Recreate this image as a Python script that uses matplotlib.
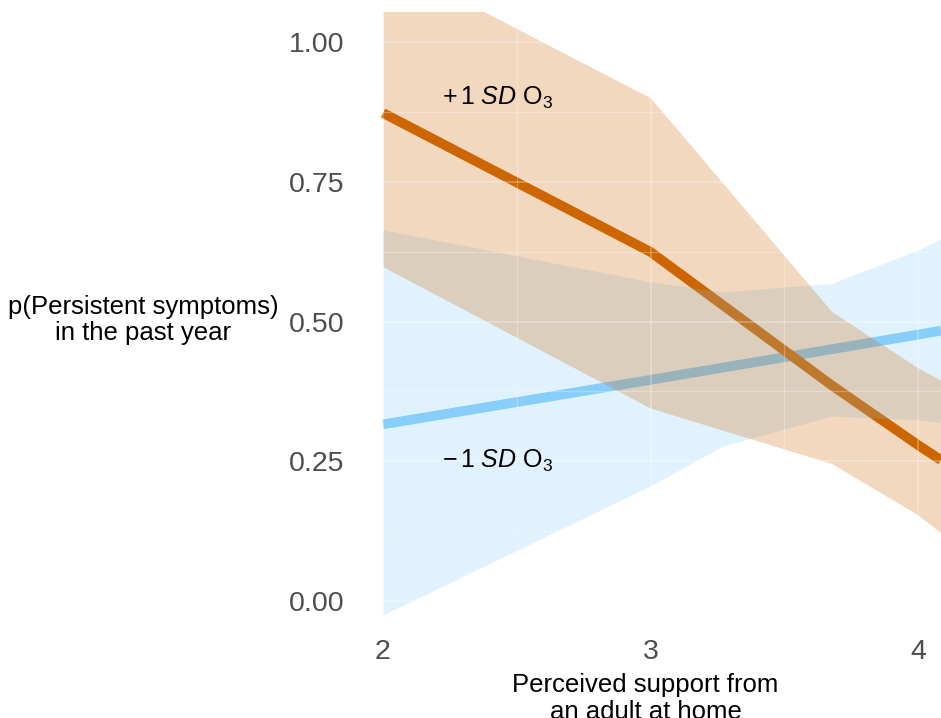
import numpy as np
import matplotlib
matplotlib.use("Agg")
import matplotlib.pyplot as plt
from matplotlib.ticker import MultipleLocator

plt.rcParams['font.family'] = ['Liberation Sans', 'DejaVu Sans']
plt.rcParams['mathtext.fontset'] = 'custom'
plt.rcParams['mathtext.rm'] = 'Liberation Sans'
plt.rcParams['mathtext.it'] = 'Liberation Sans:italic'

# values
hi_x = [2, 3, 3.677, 4, 4.086]
hi_fit = [0.873, 0.6245, 0.386, 0.279, 0.252]
hi_upper = [1.148, 0.900, 0.518, 0.417, 0.395]
hi_lower = [0.598, 0.345, 0.246, 0.154, 0.122]

lo_x = [2, 3, 4, 4.086]
lo_fit = [0.316, 0.3956, 0.4765, 0.4836]
lo_band_x = [2, 3, 3.27, 3.677, 4, 4.086]
lo_upper = [0.664, 0.571, 0.553, 0.568, 0.628, 0.648]
lo_lower = [-0.025, 0.206, 0.277, 0.331, 0.324, 0.319]

x_ticks = [2, 3, 4]
y_ticks = [0.0, 0.25, 0.5, 0.75, 1.0]

orange = '#CD6600'
blue = '#87CEFA'

W, H = 941, 718
fig = plt.figure(figsize=(W/100, H/100), dpi=100)
left_px, right_px, top_px, bot_px = 350, 941, 12, 618
ax = fig.add_axes([left_px/W, 1-bot_px/H, (right_px-left_px)/W, (bot_px-top_px)/H])

# lines under the ribbons, like the original
ax.plot(lo_x, lo_fit, color=blue, lw=7, solid_capstyle='butt', zorder=1.0)
ax.plot(hi_x, hi_fit, color=orange, lw=7, solid_capstyle='butt', zorder=1.1)
ax.fill_between(lo_band_x, lo_lower, lo_upper, color=blue, alpha=0.25, lw=0, zorder=1.5)
ax.fill_between(hi_x, hi_lower, hi_upper, color=orange, alpha=0.25, lw=0, zorder=1.6)

ax.set_xlim(2 - (383-left_px)/267.5, 2 + (right_px-383)/267.5)
ax.set_ylim((601-bot_px)/559, (601-top_px)/559)

ax.set_xticks(x_ticks)
ax.set_yticks(y_ticks)
ax.set_yticklabels(['%.2f' % v for v in y_ticks])
ax.xaxis.set_minor_locator(MultipleLocator(0.5))
ax.yaxis.set_minor_locator(MultipleLocator(0.125))
ax.tick_params(which='both', length=0)
ax.tick_params(axis='both', labelsize=20.5, labelcolor='#4D4D4D')
ax.tick_params(axis='y', pad=4)
ax.tick_params(axis='x', pad=15)
ax.set_axisbelow(False)
ax.grid(which='major', color='white', lw=1.3, alpha=0.28)
ax.grid(which='minor', color='white', lw=0.9, alpha=0.28)
for s in ax.spines.values():
    s.set_visible(False)

ax.text(2.43, 0.90, r'$+\,1\ \mathit{SD}\ \mathrm{O}_3$', fontsize=18, ha='center', va='center', zorder=5)
ax.text(2.43, 0.25, r'$-\,1\ \mathit{SD}\ \mathrm{O}_3$', fontsize=18, ha='center', va='center', zorder=5)

ax.set_xlabel('Perceived support from\nan adult at home', fontsize=18.5, labelpad=6, linespacing=1.15)
fig.text(143/W, 1-320/H, 'p(Persistent symptoms)\nin the past year', fontsize=18.5,
         ha='center', va='center', linespacing=1.15)

fig.savefig('out.png', dpi=100)
